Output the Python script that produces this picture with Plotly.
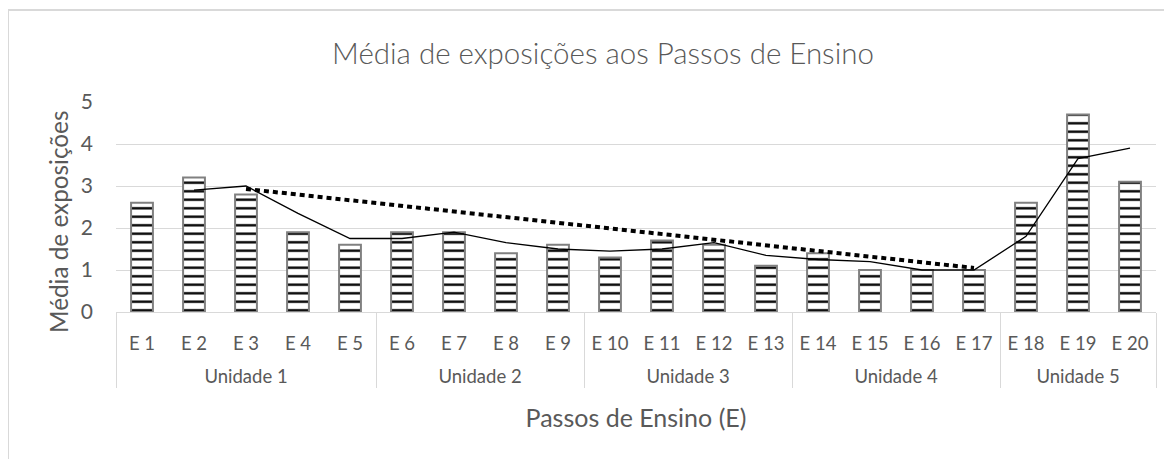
import plotly.graph_objects as go

# ---- data ----
units = (["Unidade 1"] * 5 + ["Unidade 2"] * 4 + ["Unidade 3"] * 4
         + ["Unidade 4"] * 4 + ["Unidade 5"] * 3)
steps = ["E 1", "E 2", "E 3", "E 4", "E 5", "E 6", "E 7", "E 8", "E 9", "E 10",
         "E 11", "E 12", "E 13", "E 14", "E 15", "E 16", "E 17", "E 18", "E 19", "E 20"]
values = [2.6, 3.2, 2.8, 1.9, 1.6, 1.9, 1.9, 1.4, 1.6, 1.3,
          1.7, 1.6, 1.1, 1.4, 1.0, 1.0, 1.0, 2.6, 4.7, 3.1]

# moving average (2 periods), starting at E 2
ma_values = [2.9, 3.0, 2.35, 1.75, 1.75, 1.9, 1.65, 1.5, 1.45, 1.5,
             1.65, 1.35, 1.25, 1.2, 1.0, 1.0, 1.8, 3.65, 3.9]

# linear trend E 3 -> E 17
trend_steps = ["E 3", "E 17"]
trend_values = [2.93, 1.05]

FONT = "Lato"
GREY = "#595959"

# tick text with a trailing blank line to space the two label rows like the original
step_text = [s + "<br> " for s in steps]
unit_of = dict(zip(steps, units))
text_of = dict(zip(steps, step_text))

def xcat(sel):
    return [[unit_of[s] for s in sel], [text_of[s] for s in sel]]

fig = go.Figure()
fig.add_trace(go.Bar(
    x=xcat(steps), y=values,
    marker=dict(color="white",
                line=dict(color="#808080", width=2),
                pattern=dict(shape="-", fgcolor="black", bgcolor="white",
                             size=8.5, solidity=0.28, fillmode="replace")),
    showlegend=False, hoverinfo="y"))
fig.add_trace(go.Scatter(
    x=xcat(steps[1:]), y=ma_values, mode="lines",
    line=dict(color="black", width=1.3), showlegend=False, hoverinfo="y"))
fig.add_trace(go.Scatter(
    x=xcat(trend_steps), y=trend_values, mode="lines",
    line=dict(color="black", width=4, dash="5px,4px"), showlegend=False, hoverinfo="y"))

# page has an 8px body margin: figure coordinates = page coordinates - 8
W, H = 1164, 451
L, R, T, B = 108, 16, 94, 147
pw, ph = W - L - R, H - T - B

fig.update_layout(
    width=W, height=H,
    margin=dict(l=L, r=R, t=T, b=B, autoexpand=False),
    paper_bgcolor="white", plot_bgcolor="white",
    bargap=0.58,
    font=dict(family=FONT, color=GREY, size=19),
    title=dict(text="Média de exposições aos Passos de Ensino",
               font=dict(family=FONT, size=29.5, color=GREY, weight=300),
               x=595 / W, xanchor="center", xref="container",
               y=1 - 46 / H, yanchor="middle", yref="container"),
    xaxis=dict(type="multicategory", showgrid=False, showline=True,
               linecolor="#d9d9d9", linewidth=1, automargin=False,
               showdividers=True, dividercolor="#d9d9d9", dividerwidth=1,
               ticklabelstandoff=15,
               tickfont=dict(family=FONT, size=18.5, color=GREY),
               title=dict(text="Passos de Ensino (E)",
                          font=dict(family=FONT, size=25, color=GREY),
                          standoff=23)),
    yaxis=dict(range=[0, 5], dtick=1, showgrid=True, gridcolor="#d9d9d9",
               gridwidth=1, zeroline=False, showline=False, automargin=False,
               tickfont=dict(family=FONT, size=21, color=GREY),
               ticklabelstandoff=22),
    annotations=[dict(text="Média de exposições", textangle=-90,
                      xref="paper", yref="paper",
                      x=(50 - L) / pw, y=(H - B - 214) / ph,
                      xanchor="center", yanchor="middle", showarrow=False,
                      font=dict(family=FONT, size=24.3, color=GREY))],
    shapes=[dict(type="rect", xref="paper", yref="paper",
                 x0=(0 - L) / pw, x1=(W + 20 - L) / pw,
                 y0=-(H + 20 - T - ph) / ph, y1=(H - B - 2) / ph,
                 line=dict(color="#d9d9d9", width=2), layer="below")],
)

fig.write_html("out.html")
